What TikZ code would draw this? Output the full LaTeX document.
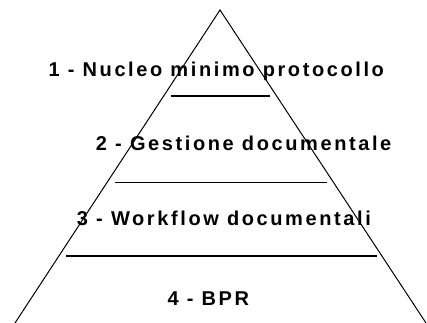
\documentclass[tikz,border=0pt]{standalone}
\usepackage{fontspec}
\setmainfont{Liberation Sans}
\newfontfamily\lblfont[LetterSpace=13]{Liberation Sans}
\begin{document}
\begin{tikzpicture}[x=0.75pt,y=-0.75pt,
  side/.style={draw=black,line width=0.75pt},
  sep/.style={draw=black,line width=0.9pt},
  lvl/.style={anchor=base west,inner sep=0pt,font=\lblfont\bfseries\fontsize{15}{18}\selectfont}]
\useasboundingbox (0,0) rectangle (427,323);
\coordinate (apex) at (220,10);
\coordinate (bl) at (15,323);
\coordinate (br) at (426,323);
\draw[side] (bl) -- (apex) -- (br);
\coordinate (s1a) at (171,96);  \coordinate (s1b) at (270,96);
\coordinate (s2a) at (115,182.3); \coordinate (s2b) at (327,182.3);
\coordinate (s3a) at (66,256);  \coordinate (s3b) at (377,256);
\draw[sep] (s1a) -- (s1b);
\draw[sep] (s2a) -- (s2b);
\draw[sep] (s3a) -- (s3b);
\node[lvl] (t1) at (48.3,76.7) {1 - Nucleo minimo protocollo};
\node[lvl] (t2) at (95.7,150.7) {2 - Gestione documentale};
\node[lvl] (t3) at (76.7,226) {3 - Workflow documentali};
\node[lvl] (t4) at (167.3,305.7) {4 - BPR};
\end{tikzpicture}
\end{document}
